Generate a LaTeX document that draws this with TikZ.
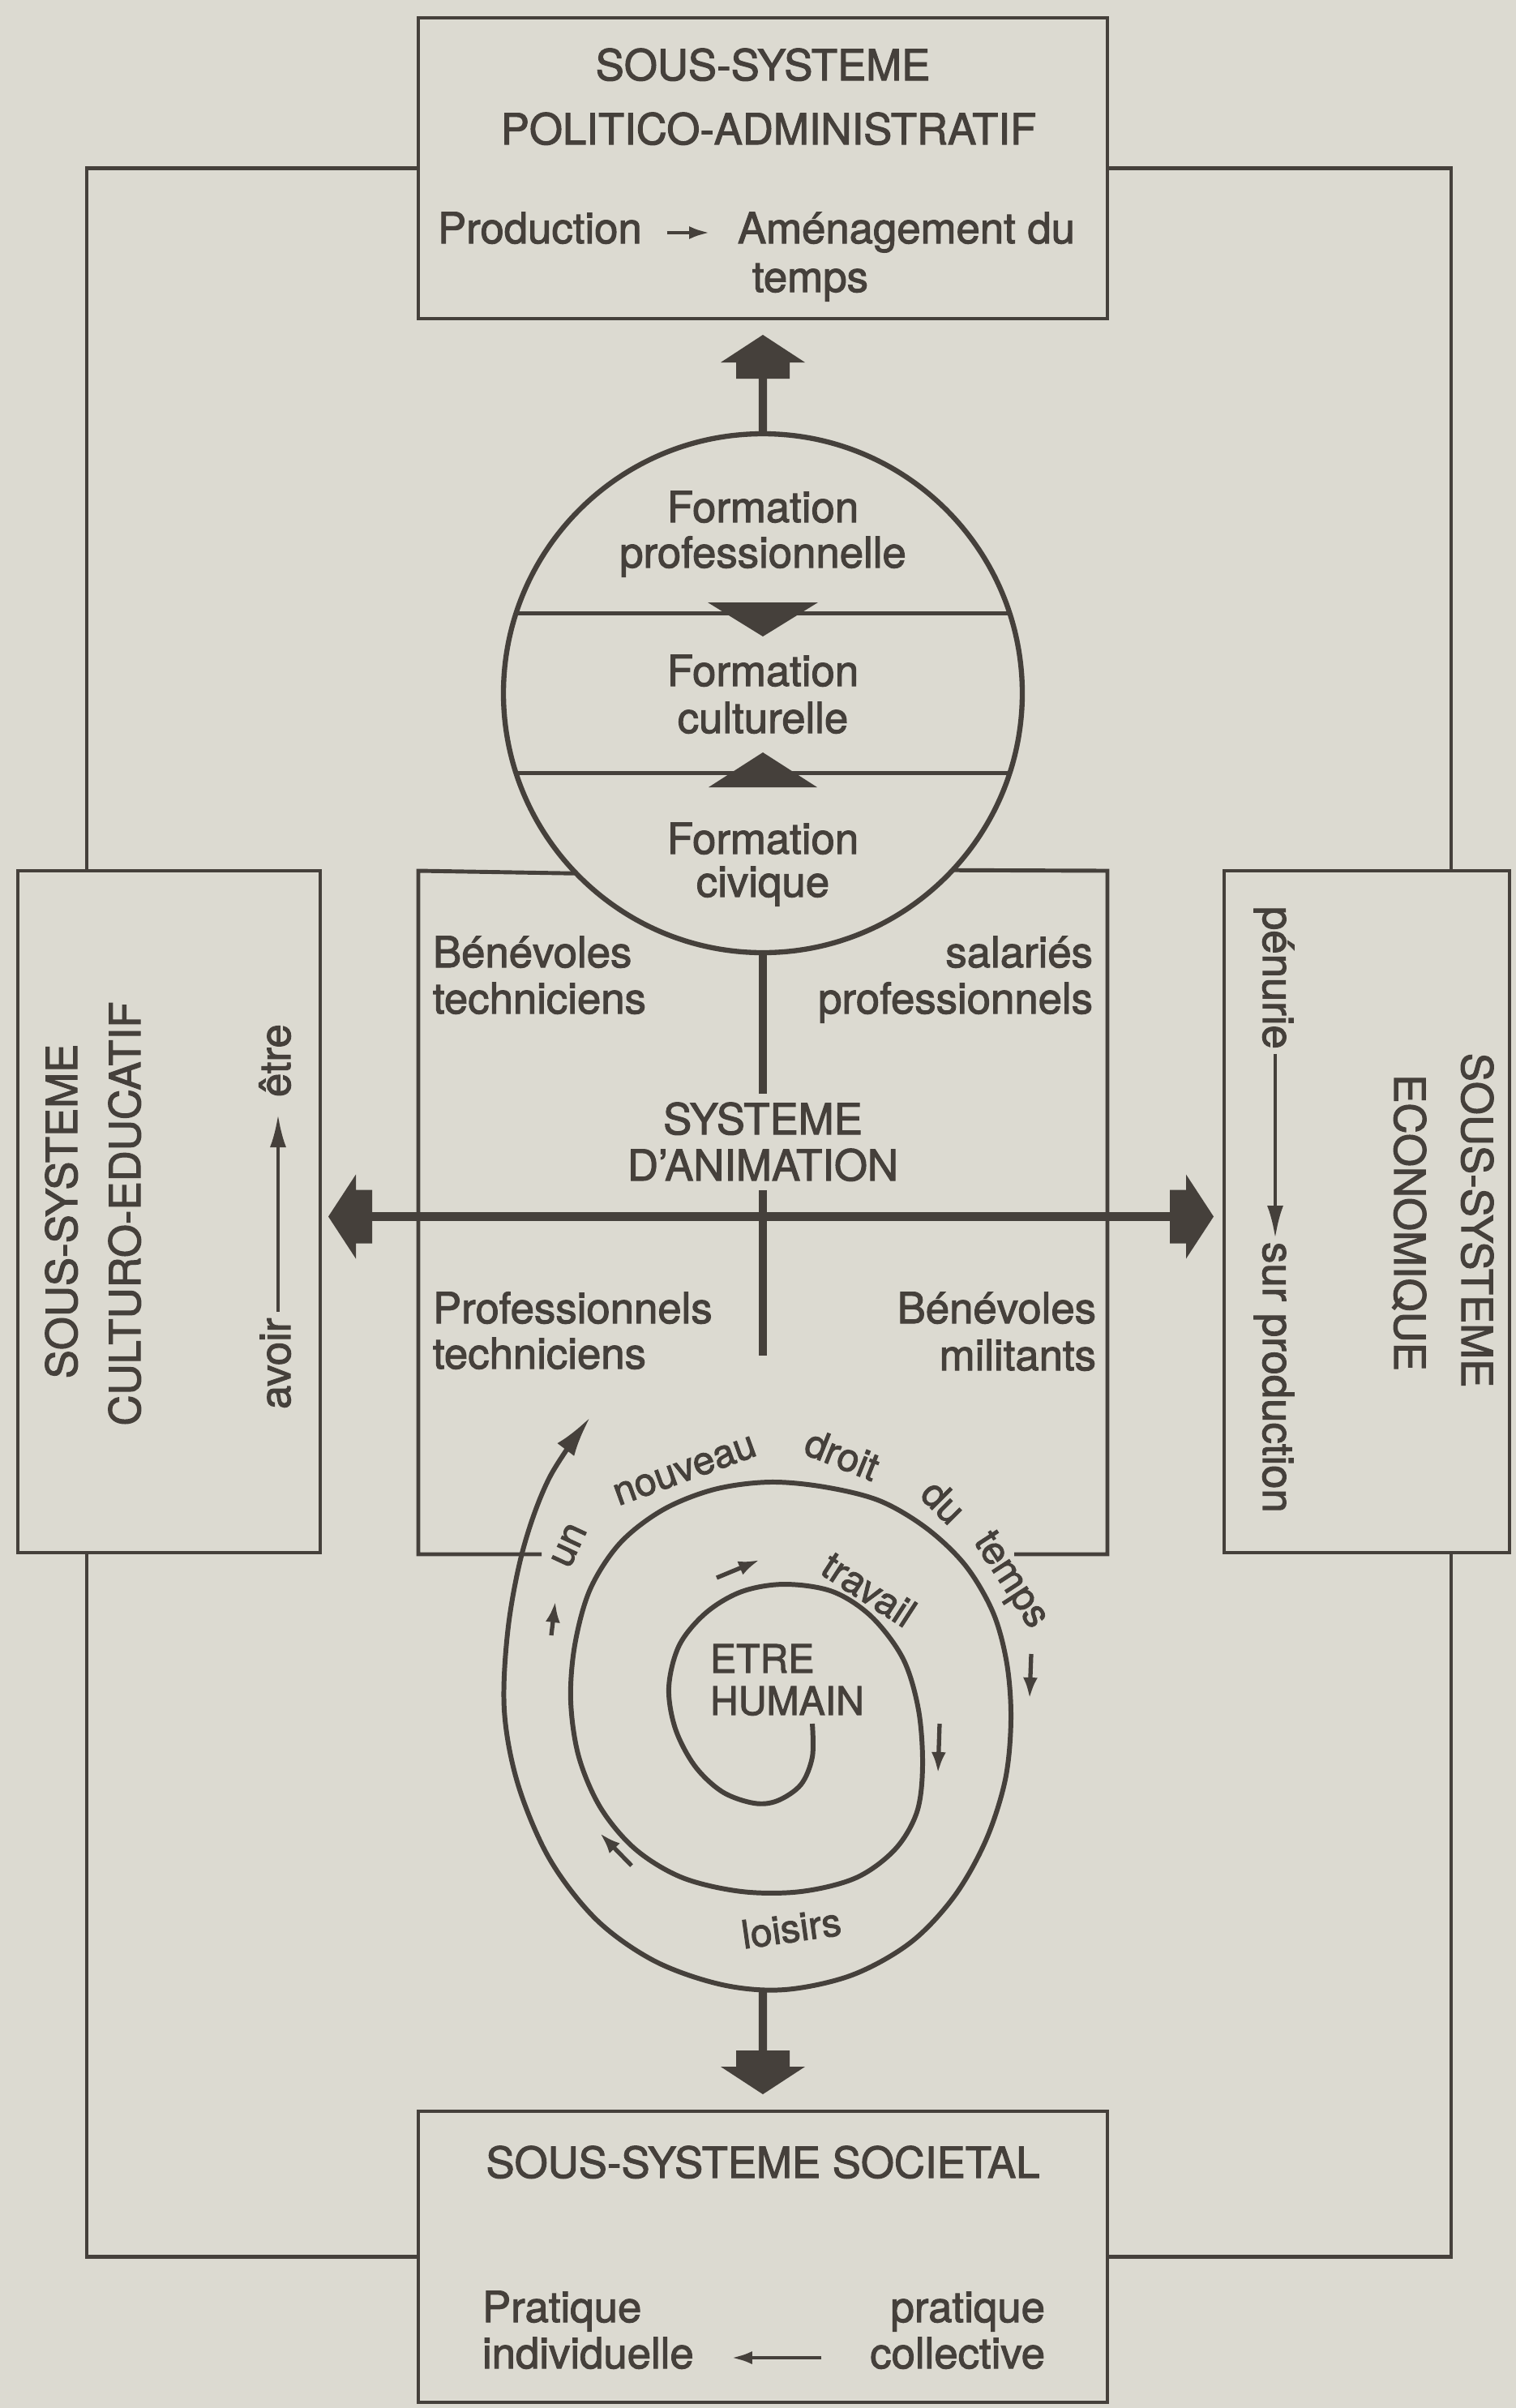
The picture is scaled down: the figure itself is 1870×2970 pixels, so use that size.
\documentclass[tikz,border=0pt]{standalone}
\usepackage{fontspec}
\setmainfont{TeX Gyre Heros}[FakeBold=2]
\usetikzlibrary{arrows.meta,calc}
\definecolor{paper}{HTML}{DCDAD1}
\definecolor{ink}{HTML}{45403B}
\begin{document}
\begin{tikzpicture}[x=0.1mm,y=-0.1mm,
 boxln/.style={draw=ink, line width=1.4pt},
 thk/.style={draw=ink, line width=2.9pt},
 lbl/.style={inner sep=0pt, outer sep=0pt, text=ink, font=\fontsize{15pt}{18pt}\selectfont},
 slbl/.style={inner sep=0pt, outer sep=0pt, text=ink, font=\fontsize{13.7pt}{16pt}\selectfont},
 sarr/.style={draw=ink, line width=1.5pt, -{Latex[length=2.6mm,width=1.8mm]}},
 tarr/.style={draw=ink, line width=1.2pt, -{Latex[length=4mm,width=2mm]}},
 harr/.style={draw=ink, line width=1.4pt, -{Latex[length=2.6mm,width=1.6mm]}},
 emptybox/.style={boxln, rectangle, inner sep=0pt, outer sep=0pt, anchor=north west},
 blockhead/.pic={\fill[ink] (0,0) -- (52,34) -- (33,34) -- (33,54) -- (-33,54) -- (-33,34) -- (-52,34) -- cycle;}
]
\fill[paper] (0,0) rectangle (1870,2970);
\useasboundingbox (0,0) rectangle (1870,2970);

% ---------- boxes
\node[emptybox, minimum width=85mm, minimum height=37.1mm] (pol) at (516,22) {};
\node[emptybox, minimum width=37.3mm, minimum height=84.1mm] (cult) at (22,1074) {};
\node[emptybox, minimum width=35.2mm, minimum height=84.1mm] (eco) at (1510,1074) {};
\node[emptybox, minimum width=85mm, minimum height=35.9mm] (soc) at (516,2604) {};
\node[circle, draw=ink, line width=1.8pt, minimum size=64mm, inner sep=0pt, outer sep=0pt] (circ) at (941,855) {};

% ---------- connectors between boxes
\coordinate (cl) at (107,1074);
\coordinate (cr) at (1790,1074);
\coordinate (cbl) at (107,1915);
\coordinate (cbr) at (1790,1915);
\draw[boxln] (pol.west) -| (cl);
\draw[boxln] (pol.east) -| (cr);
\draw[boxln] (cbl) |- (soc.west);
\draw[boxln] (cbr) |- (soc.east);

% ---------- central frame
\draw[boxln] (circ.-136.8) -- (516,1074) -- (516,1917) -- (668,1917);
\draw[boxln] (circ.-43.2) -- (1366,1074) -- (1366,1917) -- (1251,1917);

% ---------- circle chords and triangles
\draw[boxln] (circ.162) -- (circ.18);
\draw[boxln] (circ.-162) -- (circ.-18);
\fill[ink] (873,743) -- (1009,743) -- (941,785) -- cycle;
\fill[ink] (874,971) -- (1008,971) -- (941,928) -- cycle;

% ---------- top box texts
\node[lbl, anchor=base] (t1) at (941,99) {SOUS-SYSTEME};
\node[lbl, anchor=base] (t2) at (948,178) {POLITICO-ADMINISTRATIF};
\node[lbl, anchor=base west] (prod) at (540,300) {Production};
\node[lbl, anchor=base west] (amen) at (910,300) {Aménagement du};
\node[lbl, anchor=base west] (temps) at (928,360) {temps};
\draw[harr, shorten <=3.1mm, shorten >=3.4mm] ([yshift=1.3mm]prod.base east) -- ([yshift=1.3mm]amen.base west);

% ---------- circle texts
\node[lbl, anchor=base] (f1) at (941,644) {Formation};
\node[lbl, anchor=base] (f1b) at (941,700) {professionnelle};
\node[lbl, anchor=base] (f2) at (941,846) {Formation};
\node[lbl, anchor=base] (f2b) at (941,904) {culturelle};
\node[lbl, anchor=base] (f3) at (941,1053) {Formation};
\node[lbl, anchor=base] (f3b) at (941,1106) {civique};

% ---------- block arrows
\coordinate (toptip) at ([yshift=-2mm]pol.south);
\pic at (toptip) {blockhead};
\draw[thk] (circ.north) -- ([yshift=-5.2mm]toptip);

\coordinate (bottip) at ([yshift=2.1mm]soc.north);
\pic[rotate=180] at (bottip) {blockhead};
\coordinate (spb) at (941,2455);
\draw[thk] (spb) -- ([yshift=5.2mm]bottip);

\coordinate (ltip) at ([xshift=1mm,yshift=-0.6mm]cult.east);
\coordinate (rtip) at ([xshift=-1.3mm,yshift=-0.6mm]eco.west);
\pic[rotate=90] at (ltip) {blockhead};
\pic[rotate=-90] at (rtip) {blockhead};
\draw[thk] ([xshift=5.2mm]ltip) -- ([xshift=-5.2mm]rtip);

% ---------- animation system texts
\node[lbl, anchor=base west] (bt1) at (534,1193) {Bénévoles};
\node[lbl, anchor=base west] (bt2) at (534,1250) {techniciens};
\node[lbl, anchor=base east] (sp1) at (1348,1193) {salariés};
\node[lbl, anchor=base east] (sp2) at (1348,1250) {professionnels};
\node[lbl, anchor=base] (sys) at (941,1399) {SYSTEME};
\node[lbl, anchor=base] (anim) at (941,1456) {D’ANIMATION};
\node[lbl, anchor=base west] (pt1) at (534,1632) {Professionnels};
\node[lbl, anchor=base west] (pt2) at (534,1688) {techniciens};
\node[lbl, anchor=base east] (bm1) at (1352,1632) {Bénévoles};
\node[lbl, anchor=base east] (bm2) at (1352,1690) {militants};
\draw[thk] (circ.south) -- ([yshift=1.1mm]sys.north);
\coordinate (vend) at (941,1672);
\draw[thk] ([yshift=-1.1mm]anim.south) -- (vend);

% ---------- left box texts
\node[lbl, rotate=90, anchor=base] (c1) at (95,1494) {SOUS-SYSTEME};
\node[lbl, rotate=90, anchor=base] (c2) at (173,1497) {CULTURO-EDUCATIF};
\node[lbl, rotate=90, anchor=base west] (avoir) at (358,1738) {avoir};
\node[lbl, rotate=90, anchor=base west] (etre) at (358,1353) {être};
\draw[tarr, shorten <=0.8mm, shorten >=2.2mm] ([xshift=-1.5mm]avoir.base east) -- ([xshift=-1.5mm]etre.base west);

% ---------- right box texts
\node[lbl, rotate=-90, anchor=base] (e1) at (1803,1505) {SOUS-SYSTEME};
\node[lbl, rotate=-90, anchor=base] (e2) at (1720,1508) {ECONOMIQUE};
\node[lbl, rotate=-90, anchor=base west] (pen) at (1558,1118) {pénurie};
\node[lbl, rotate=-90, anchor=base west] (sur) at (1558,1532) {sur production};
\draw[tarr, shorten <=0.6mm, shorten >=0.5mm] ([xshift=1.5mm]pen.base east) -- ([xshift=1.5mm]sur.base west);

% ---------- spiral
\draw[draw=ink, line width=1.7pt, -{Latex[length=5mm,width=2.6mm]}] plot[smooth, tension=0.55] coordinates {
(1002,2126) (1002,2167) (988,2201) (959,2221) (930,2224) (891,2210) (857,2178) (833,2132)
(825,2081) (838,2029) (871,1989) (915,1963) (968,1954) (1027,1963) (1075,1994) (1114,2046)
(1133,2109) (1138,2178) (1131,2235) (1104,2281) (1056,2316) (988,2333) (915,2333) (842,2316)
(784,2281) (741,2230) (714,2167) (704,2098) (709,2029) (728,1960) (765,1903) (818,1862)
(881,1837) (949,1828) (1017,1834) (1085,1851) (1143,1885) (1191,1931) (1225,1989) (1242,2052)
(1247,2121) (1240,2195) (1216,2270) (1177,2339) (1123,2396) (1051,2436) (968,2454) (891,2448)
(808,2419) (736,2368) (678,2293) (639,2201) (622,2109) (627,2006) (646,1908) (678,1822) (728,1748)};

\node[slbl, rotate=65] (w1) at (702,1906) {un};
\node[slbl, rotate=20] (w2) at (845,1814) {nouveau};
\node[slbl, rotate=-22] (w3) at (1039,1794) {droit};
\node[slbl, rotate=-45] (w4) at (1164,1852) {du};
\node[slbl, rotate=-57] (w5) at (1245,1950) {temps};
\node[slbl, rotate=-33] (w6) at (1072,1960) {travail};
\node[slbl, rotate=8] (w7) at (976,2378) {loisirs};
\node[slbl, anchor=base west] (eh1) at (876,2063) {ETRE};
\node[slbl, anchor=base west] (eh2) at (876,2115) {HUMAIN};

\draw[sarr] (680,2017) -- (685,1975);
\draw[sarr] (884,1946) -- (937,1924);
\draw[sarr] (1272,2040) -- (1270,2095);
\draw[sarr] (1159,2126) -- (1157,2187);
\draw[sarr] (779,2301) -- (740,2261);

% ---------- bottom box texts
\node[lbl, anchor=base] (s1) at (941,2686) {SOUS-SYSTEME SOCIETAL};
\node[lbl, anchor=base west] (pi1) at (595,2864) {Pratique};
\node[lbl, anchor=base west] (pi2) at (595,2921) {individuelle};
\node[lbl, anchor=base east] (pc1) at (1289,2864) {pratique};
\node[lbl, anchor=base east] (pc2) at (1289,2921) {collective};
\draw[harr, shorten <=6mm, shorten >=4.6mm] ([yshift=1.3mm]pc2.base west) -- ([yshift=1.3mm]pi2.base east);
\end{tikzpicture}
\end{document}
